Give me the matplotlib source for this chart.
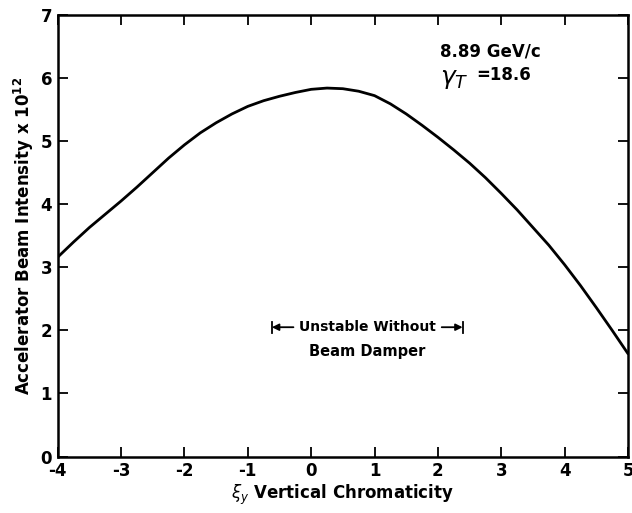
import matplotlib
matplotlib.use("Agg")
import numpy as np
import matplotlib.pyplot as plt

# chromaticity vs. beam intensity
chromaticity = [-4, -3.75, -3.5, -3.25, -3, -2.75, -2.5, -2.25, -2, -1.75,
                -1.5, -1.25, -1, -0.75, -0.5, -0.25, 0, 0.25, 0.5, 0.75,
                1, 1.25, 1.5, 1.75, 2, 2.25, 2.5, 2.75, 3, 3.25,
                3.5, 3.75, 4, 4.25, 4.5, 4.75, 5]
intensity = [3.16, 3.40, 3.63, 3.84, 4.05, 4.27, 4.50, 4.73, 4.94, 5.13,
             5.29, 5.43, 5.55, 5.64, 5.71, 5.77, 5.82, 5.84, 5.83, 5.79,
             5.72, 5.59, 5.43, 5.25, 5.06, 4.86, 4.65, 4.42, 4.17, 3.91,
             3.63, 3.35, 3.04, 2.71, 2.36, 2.00, 1.63]

x_ticks = [-4, -3, -2, -1, 0, 1, 2, 3, 4, 5]
y_ticks = [0, 1, 2, 3, 4, 5, 6, 7]

# unstable range without the damper
unstable = (-0.62, 2.39)

plt.rcParams["font.family"] = ["DejaVu Sans"]
plt.rcParams["axes.unicode_minus"] = False

fig = plt.figure(figsize=(6.32, 5.13), dpi=100)
ax = fig.add_axes([0.0913, 0.110, 0.9024, 0.861])

ax.plot(chromaticity, intensity, color="black", lw=2.0,
        solid_capstyle="round", solid_joinstyle="round")

ax.set_xlim(-4, 5)
ax.set_ylim(0, 7)
ax.set_xticks(x_ticks)
ax.set_yticks(y_ticks)
ax.tick_params(direction="in", length=7, width=1.3, top=True, right=True,
               labelsize=12, pad=4)
for lab in ax.get_xticklabels() + ax.get_yticklabels():
    lab.set_fontweight("bold")
for s in ax.spines.values():
    s.set_linewidth(1.8)

ax.set_ylabel(r"Accelerator Beam Intensity x $\mathbf{10^{12}}$",
              fontsize=12, fontweight="bold", labelpad=3)
ax.set_xlabel(r"$\xi_y$ Vertical Chromaticity", fontsize=12,
              fontweight="bold", labelpad=2)

ax.text(2.03, 6.42, "8.89 GeV/c", fontsize=12, fontweight="bold", va="center")
ax.text(2.03, 5.98, r"$\gamma_T$", fontsize=18, va="center")
ax.text(2.6, 6.05, "=18.6", fontsize=12, fontweight="bold", va="center")

y_arrow = 2.05
ax.text(0.89, y_arrow, "Unstable Without", fontsize=10, fontweight="bold",
        ha="center", va="center")
ax.text(0.89, 1.66, "Beam Damper", fontsize=10.5, fontweight="bold",
        ha="center", va="center")
for tip, tail in [(unstable[0], -0.28), (unstable[1], 2.06)]:
    ax.annotate("", xy=(tip, y_arrow), xytext=(tail, y_arrow),
                arrowprops=dict(arrowstyle="-|>", color="black", lw=1.3,
                                mutation_scale=10, shrinkA=0, shrinkB=0))
    ax.plot([tip, tip], [y_arrow - 0.09, y_arrow + 0.09], color="black", lw=1.3)

fig.savefig("out.png", dpi=100)
